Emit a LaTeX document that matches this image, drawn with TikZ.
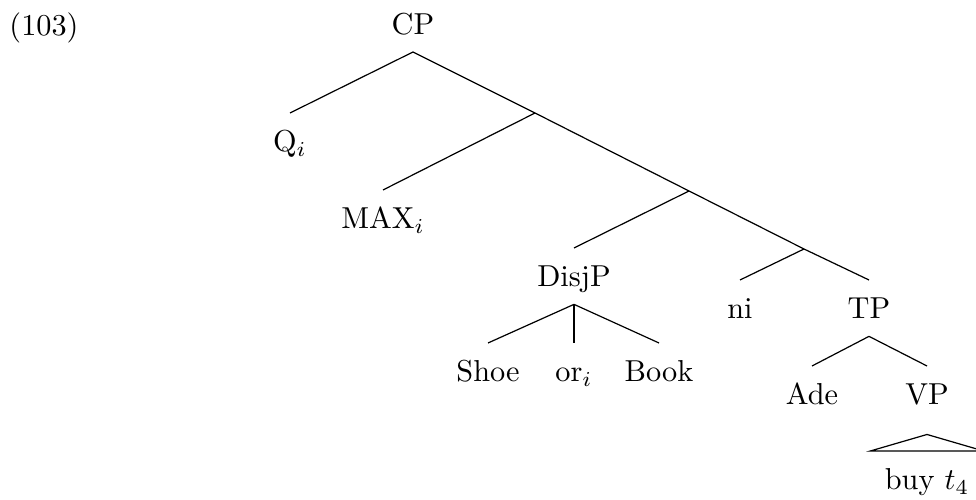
\documentclass[tikz,border=0pt]{standalone}
\usepackage{tikz}

\begin{document}
\begin{tikzpicture}[x=0.33pt, y=-0.33pt,
    cat/.style={inner xsep=0pt, inner ysep=5.6pt, text height=7pt, text depth=0pt, anchor=north},
    branch/.style={line width=0.4pt}
]
\useasboundingbox (0,0) rectangle (976,500);

% Example number
\node[anchor=base, inner sep=0pt] (num) at (44,36) {(103)};

% Root and spine
\node[cat, anchor=south] (cp) at (413,52) {CP};
\coordinate (b1) at (535,113);
\coordinate (b2) at (689,191);
\coordinate (b3) at (804,249);

% Daughters on the spine
\node[cat] (q) at (290,113) {Q$_i$};
\node[cat] (max) at (383,190) {MAX$_i$};
\node[cat] (disjp) at (574,248) {DisjP};
\node[cat] (ni) at (740,280) {ni};
\node[cat] (tp) at (869,280) {TP};

% Disjunction
\node[cat] (shoe) at (488,343) {Shoe};
\node[cat] (or) at (574,343) {or$_i$};
\node[cat] (book) at (659,343) {Book};

% TP
\node[cat] (ade) at (812,366) {Ade};
\node[cat] (vp) at (927,366) {VP};
\coordinate (roof) at ([yshift=-4pt]vp.south);
\node[cat, minimum width=37pt] (buy) at (927,451) {buy $t_4$};

% Branches
\draw[branch] (cp.south) -- (q.north);
\draw[branch] (cp.south) -- (b1) -- (b2) -- (b3) -- (tp.north);
\draw[branch] (b1) -- (max.north);
\draw[branch] (b2) -- (disjp.north);
\draw[branch] (b3) -- (ni.north);
\draw[branch] (disjp.south) -- (shoe.north);
\draw[branch] (disjp.south) -- (or.north);
\draw[branch] (disjp.south) -- (book.north);
\draw[branch] (tp.south) -- (ade.north);
\draw[branch] (tp.south) -- (vp.north);
\draw[branch] (roof) -- (buy.north west) -- (buy.north east) -- cycle;

\end{tikzpicture}
\end{document}
